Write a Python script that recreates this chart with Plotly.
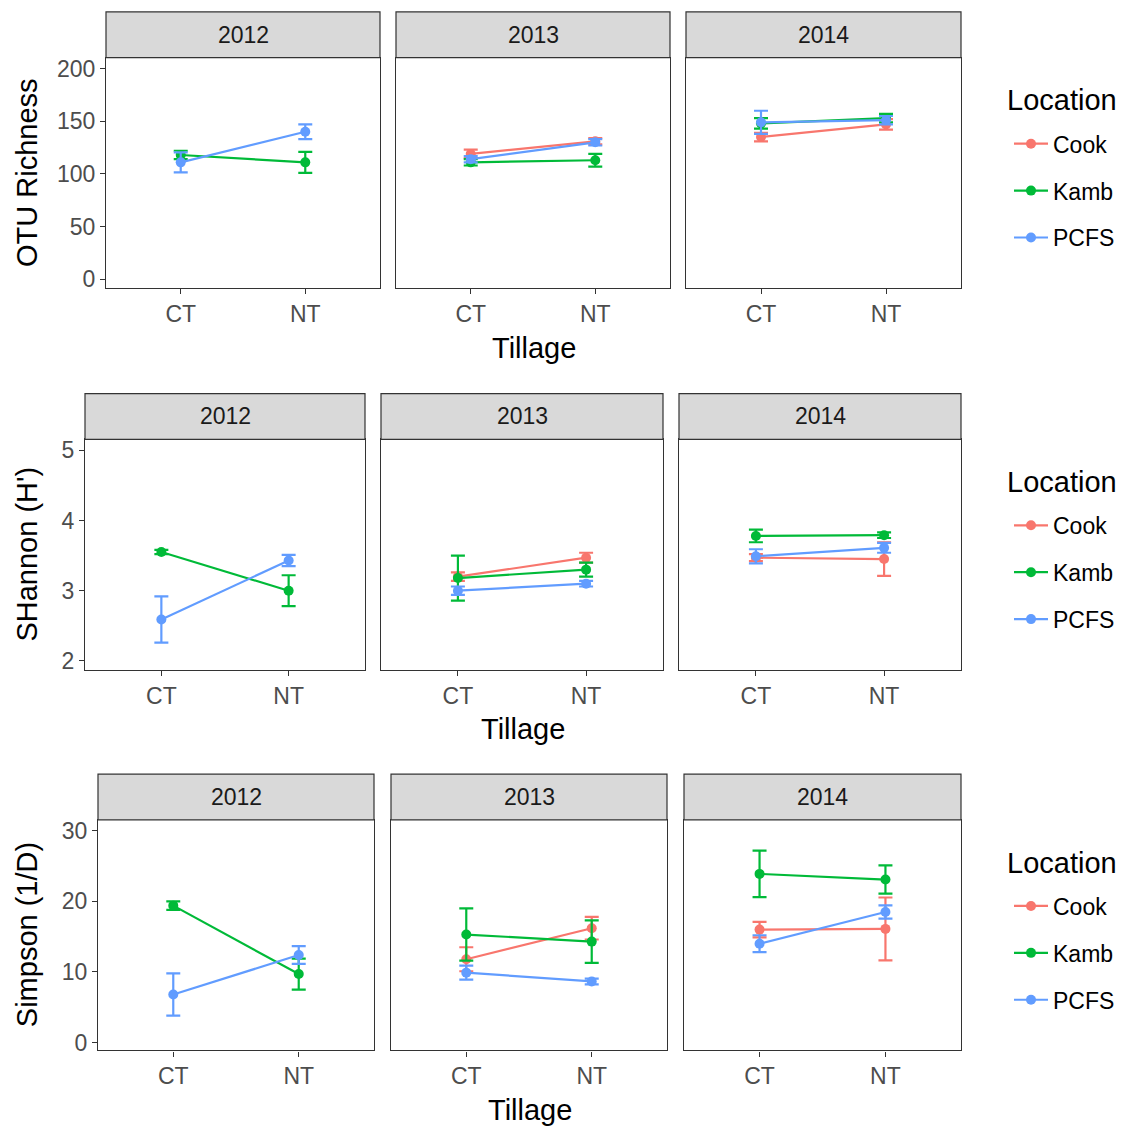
import plotly.graph_objects as go

W, H = 1138, 1131

years = ["2012", "2013", "2014"]
tillage = ["CT", "NT"]
locations = ["Cook", "Kamb", "PCFS"]

# values ordered: 2012 CT, 2012 NT, 2013 CT, 2013 NT, 2014 CT, 2014 NT
otu_mean_cook = [None, None, 119, 131, 135, 147]
otu_se_cook = [None, None, 4, 3, 4, 5]
otu_mean_kamb = [118, 111, 111, 113, 148, 153]
otu_se_kamb = [4, 10, 3, 6, 5, 4]
otu_mean_pcfs = [111, 140, 114, 130, 149, 151]
otu_se_pcfs = [9.5, 7, 3, 3, 11, 4]

shannon_mean_cook = [None, None, 3.2, 3.47, 3.47, 3.45]
shannon_se_cook = [None, None, 0.06, 0.07, 0.05, 0.24]
shannon_mean_kamb = [3.55, 3.0, 3.18, 3.3, 3.78, 3.79]
shannon_se_kamb = [0.03, 0.22, 0.32, 0.1, 0.09, 0.04]
shannon_mean_pcfs = [2.59, 3.43, 3.0, 3.1, 3.49, 3.61]
shannon_se_pcfs = [0.33, 0.08, 0.06, 0.04, 0.1, 0.07]

simpson_mean_cook = [None, None, 11.8, 16.2, 16.0, 16.1]
simpson_se_cook = [None, None, 1.7, 1.6, 1.1, 4.45]
simpson_mean_kamb = [19.4, 9.7, 15.3, 14.3, 23.9, 23.1]
simpson_se_kamb = [0.6, 2.2, 3.7, 3.0, 3.3, 2.0]
simpson_mean_pcfs = [6.8, 12.4, 9.9, 8.65, 14.0, 18.5]
simpson_se_pcfs = [3.0, 1.25, 1.0, 0.4, 1.2, 0.95]

y_titles = ["OTU Richness", "SHannon (H')", "Simpson (1/D)"]
y_ticks = [[0, 50, 100, 150, 200], [2, 3, 4, 5], [0, 10, 20, 30]]
x_title = "Tillage"
legend_title = "Location"

colors = {"Cook": "#F8766D", "Kamb": "#00BA38", "PCFS": "#619CFF"}

rows = [
    ({"Cook": otu_mean_cook, "Kamb": otu_mean_kamb, "PCFS": otu_mean_pcfs},
     {"Cook": otu_se_cook, "Kamb": otu_se_kamb, "PCFS": otu_se_pcfs}),
    ({"Cook": shannon_mean_cook, "Kamb": shannon_mean_kamb, "PCFS": shannon_mean_pcfs},
     {"Cook": shannon_se_cook, "Kamb": shannon_se_kamb, "PCFS": shannon_se_pcfs}),
    ({"Cook": simpson_mean_cook, "Kamb": simpson_mean_kamb, "PCFS": simpson_mean_pcfs},
     {"Cook": simpson_se_cook, "Kamb": simpson_se_kamb, "PCFS": simpson_se_pcfs}),
]

# layout in screen pixels
panel_x = [[(106, 380), (396, 670), (686, 961)],
           [(85, 365), (381, 663), (679, 961)],
           [(98, 374), (391, 667), (684, 961)]]
panel_y = [(56, 288), (440, 672), (823, 1055)]
y_ranges = [[-8.5, 210.4], [1.873, 5.156], [-1.13, 31.55]]
strip_h = 46

FONT = "Liberation Sans, Arial, sans-serif"
BORDER = "#333333"


def px(x):
    return x / W


def py(y):
    return 1 - y / H


fig = go.Figure()
layout = {}
shapes = []
annotations = []

ax_n = 0
for r in range(3):
    means, ses = rows[r]
    shown = set()
    legend_name = "legend" if r == 0 else f"legend{r + 1}"
    for c in range(3):
        ax_n += 1
        sfx = "" if ax_n == 1 else str(ax_n)
        x0, x1 = panel_x[r][c]
        y0, y1 = panel_y[r]
        layout[f"xaxis{sfx}"] = dict(
            domain=[px(x0), px(x1)], anchor=f"y{sfx}", type="category",
            categoryorder="array", categoryarray=tillage,
            range=[-0.6, 1.6], showgrid=False, zeroline=False,
            showline=True, mirror=True, linecolor=BORDER, linewidth=1.2,
            ticks="outside", ticklen=5, tickwidth=1.2, tickcolor=BORDER,
            tickfont=dict(size=23, color="#4D4D4D", family=FONT),
            fixedrange=True,
        )
        layout[f"yaxis{sfx}"] = dict(
            domain=[py(y1), py(y0)], anchor=f"x{sfx}", range=y_ranges[r],
            showgrid=False, zeroline=False,
            showline=True, mirror=True, linecolor=BORDER, linewidth=1.2,
            tickvals=y_ticks[r],
            ticks="outside" if c == 0 else "", ticklen=5, tickwidth=1.2,
            tickcolor=BORDER, showticklabels=(c == 0),
            tickfont=dict(size=23, color="#4D4D4D", family=FONT),
            fixedrange=True,
        )
        # strip
        shapes.append(dict(type="rect", xref="paper", yref="paper",
                           x0=px(x0), x1=px(x1), y0=py(y0), y1=py(y0 - strip_h),
                           fillcolor="#D9D9D9", line=dict(color=BORDER, width=1.2),
                           layer="above"))
        annotations.append(dict(text=years[c], xref="paper", yref="paper",
                                x=px((x0 + x1) / 2), y=py(y0 - strip_h / 2),
                                showarrow=False, xanchor="center", yanchor="middle",
                                font=dict(size=23, color="#1A1A1A", family=FONT)))
        for loc in locations:
            mv = means[loc][2 * c:2 * c + 2]
            sv = ses[loc][2 * c:2 * c + 2]
            xs = [t for t, m in zip(tillage, mv) if m is not None]
            ys = [m for m in mv if m is not None]
            es = [s for m, s in zip(mv, sv) if m is not None]
            if not ys:
                continue
            show = loc not in shown
            shown.add(loc)
            fig.add_trace(go.Scatter(
                x=xs, y=ys, mode="lines+markers", name=loc,
                xaxis=f"x{sfx}", yaxis=f"y{sfx}",
                line=dict(color=colors[loc], width=2.2),
                marker=dict(color=colors[loc], size=10),
                error_y=dict(type="data", array=es, visible=True,
                             color=colors[loc], thickness=2.2, width=7),
                showlegend=show, legend=legend_name,
                legendgroup=f"{r}-{loc}", legendrank=locations.index(loc),
            ))
    # legend (title drawn as annotation)
    layout[legend_name] = dict(
        x=px(1009), y=py(panel_y[r][0] + 65), xanchor="left", yanchor="top",
        font=dict(size=23, color="black", family=FONT),
        traceorder="grouped", tracegroupgap=14, bgcolor="rgba(0,0,0,0)",
        itemwidth=34,
    )
    annotations.append(dict(text=legend_title, xref="paper", yref="paper",
                            x=px(1005), y=py(panel_y[r][0] + 43),
                            showarrow=False, xanchor="left", yanchor="middle",
                            font=dict(size=29, color="black", family=FONT)))
    # axis titles
    xa, xb = panel_x[r][0][0], panel_x[r][2][1]
    annotations.append(dict(text=x_title, xref="paper", yref="paper",
                            x=px((xa + xb) / 2), y=py(panel_y[r][1] + 60),
                            showarrow=False, xanchor="center", yanchor="middle",
                            font=dict(size=29, color="black", family=FONT)))
    annotations.append(dict(text=y_titles[r], xref="paper", yref="paper",
                            x=px(27), y=py((panel_y[r][0] + panel_y[r][1]) / 2),
                            showarrow=False, xanchor="center", yanchor="middle",
                            textangle=-90,
                            font=dict(size=29, color="black", family=FONT)))

fig.update_layout(
    width=W, height=H, margin=dict(l=0, r=0, t=0, b=0),
    paper_bgcolor="white", plot_bgcolor="white",
    font=dict(family=FONT),
    shapes=shapes, annotations=annotations,
    **layout,
)

fig.write_html("out.html", config={"displayModeBar": False},
               post_script="document.body.style.margin='0';document.body.style.overflow='hidden';")
